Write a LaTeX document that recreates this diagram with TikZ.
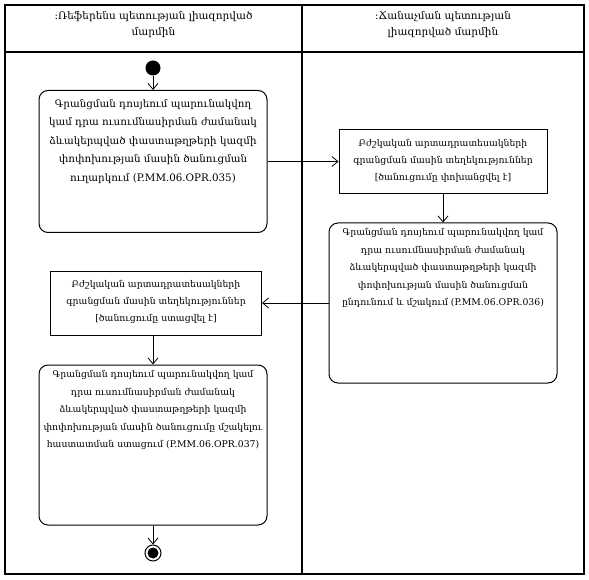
\documentclass[tikz,border=0pt]{standalone}
\usepackage{fontspec}
\setmainfont{DejaVu Serif}
\usetikzlibrary{arrows.meta}
\begin{document}
\begin{tikzpicture}[x=1pt,y=-1pt,
  lane/.style={draw,line width=1.2pt},
  act/.style={draw,line width=1pt,rounded corners=9pt,inner sep=0pt},
  obj/.style={draw,line width=1pt,inner sep=0pt},
  txtA/.style={align=center,font=\fontsize{10.3}{18.5}\selectfont,inner sep=0pt},
  txtB/.style={align=center,font=\fontsize{9.3}{17.5}\selectfont,inner sep=0pt},
  otxt/.style={align=center,font=\fontsize{9.3}{17}\selectfont,inner sep=0pt},
  htxt/.style={align=center,font=\fontsize{10.5}{16}\selectfont,inner sep=0pt},
  flow/.style={draw,line width=0.8pt,-{Straight Barb[length=6pt,width=10pt]}}
]
\useasboundingbox (0,0) rectangle (589,580);
\draw[lane] (5,5) rectangle (584,574);
\draw[lane] (5,52) -- (584,52);
\draw[lane] (302,5) -- (302,574);
\node[htxt] (h1) at (153.5,24.5) {:Ռեֆերենս պետության լիազորված\\մարմին};
\node[htxt] (h2) at (443,24.5) {:Ճանաչման պետության\\լիազորված մարմին};

\node[circle,fill=black,minimum size=15pt,inner sep=0pt] (start) at (153,68) {};

\node[act,minimum width=228pt,minimum height=142pt] (b1) at (153,161.5) {};
\node[txtA,anchor=north] (t1) at ([yshift=-9pt]b1.north) {Գրանցման դոսյեում պարունակվող\\կամ դրա ուսումնասիրման ժամանակ\\ձևակերպված փաստաթղթերի կազմի\\փոփոխության մասին ծանուցման\\ուղարկում (P.MM.06.OPR.035)};

\node[obj,minimum width=208pt,minimum height=64pt] (b2) at (443,161.5) {};
\node[otxt] (t2) at ([yshift=1pt]b2.center) {Բժշկական արտադրատեսակների\\գրանցման մասին տեղեկություններ\\{[}ծանուցումը փոխանցվել է{]}};

\node[act,minimum width=228pt,minimum height=160pt] (b3) at (443,303) {};
\node[txtB,anchor=north] (t3) at ([yshift=-6pt]b3.north) {Գրանցման դոսյեում պարունակվող կամ\\դրա ուսումնասիրման ժամանակ\\ձևակերպված փաստաթղթերի կազմի\\փոփոխության մասին ծանուցման\\ընդունում և մշակում (P.MM.06.OPR.036)};

\node[obj,minimum width=211pt,minimum height=64pt] (b4) at (156,303) {};
\node[otxt] (t4) at ([yshift=1pt]b4.center) {Բժշկական արտադրատեսակների\\գրանցման մասին տեղեկություններ\\{[}ծանուցումը ստացվել է{]}};

\node[act,minimum width=228pt,minimum height=160pt] (b5) at (153,445) {};
\node[txtB,anchor=north] (t5) at ([yshift=-6pt]b5.north) {Գրանցման դոսյեում պարունակվող կամ\\դրա ուսումնասիրման ժամանակ\\ձևակերպված փաստաթղթերի կազմի\\փոփոխության մասին ծանուցումը մշակելու\\հաստատման ստացում (P.MM.06.OPR.037)};

\node[circle,draw,line width=1pt,minimum size=16pt,inner sep=0pt] (end) at (153,553) {};
\node[circle,fill=black,minimum size=11pt,inner sep=0pt] (endin) at (end.center) {};

\draw[flow] (start) -- (b1);
\draw[flow] (b1) -- (b2);
\draw[flow] (b2) -- (b3);
\draw[flow] (b3) -- (b4);
\draw[flow] (b4.south -| b5.north) -- (b5.north);
\draw[flow] (b5) -- (end);
\end{tikzpicture}
\end{document}
